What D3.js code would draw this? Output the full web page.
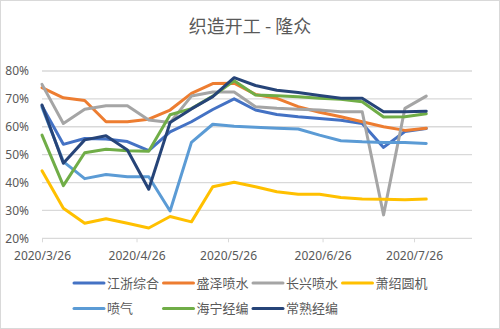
<!DOCTYPE html>
<html>
<head>
<meta charset="utf-8">
<script src="https://cdn.jsdelivr.net/npm/d3@7/dist/d3.min.js"></script>
<style>
html,body{margin:0;padding:0;background:#fff;}
svg{display:block;}
text{font-family:"Noto Sans CJK SC","Noto Sans",sans-serif;fill:#595959;}
</style>
</head>
<body>
<svg id="c" width="500" height="329"></svg>
<script>
const title = "织造开工 - 隆众";
const dates = ["2020-03-26","2020-04-02","2020-04-09","2020-04-16","2020-04-23","2020-04-30","2020-05-07","2020-05-14","2020-05-21","2020-05-28","2020-06-04","2020-06-11","2020-06-18","2020-06-25","2020-07-02","2020-07-09","2020-07-16","2020-07-23","2020-07-30"];
const seriesNames = ["江浙综合","盛泽喷水","长兴喷水","萧绍圆机","喷气","海宁经编","常熟经编"];
const jiangzhe  = [67.5,53.7,55.8,55.6,54.7,51.4,58.2,61.8,66.2,70.0,66.0,64.4,63.6,63.0,62.3,61.2,52.6,58.3,59.4];
const shengze   = [74.0,70.4,69.4,61.8,61.8,62.7,66.0,72.0,75.5,75.6,71.6,70.2,67.2,65.2,63.6,61.8,60.0,58.7,59.5];
const changxing = [75.2,61.2,66.3,67.5,67.5,62.4,61.5,71.0,72.5,72.5,67.2,66.6,66.3,66.0,65.4,65.4,28.4,66.6,71.0];
const xiaoshao  = [44.2,30.8,25.4,27.0,25.4,23.7,27.8,25.9,38.5,40.1,38.5,36.7,35.8,35.8,34.6,34.1,34.0,33.8,34.1];
const penqi     = [67.0,47.5,41.4,42.9,42.1,42.1,29.8,54.4,60.9,60.2,59.8,59.5,59.2,57.0,55.0,54.6,54.4,54.4,54.0];
const haining   = [57.0,38.9,50.7,51.9,51.4,51.2,64.3,66.5,71.0,76.5,71.4,71.1,70.8,70.2,69.9,69.0,63.5,63.6,64.7];
const changshu  = [67.8,46.9,55.3,56.8,51.7,37.6,61.5,66.4,70.8,77.6,74.8,73.1,72.3,71.2,70.2,70.2,65.4,65.4,65.6];
const colors = ["#4472C4","#ED7D31","#A5A5A5","#FFC000","#5B9BD5","#70AD47","#264478"];
const yTicks = [20,30,40,50,60,70,80];
const xTickDates = ["2020-03-26","2020-04-26","2020-05-26","2020-06-26","2020-07-26"];
const xDomain = ["2020-03-26","2020-08-14"];

const values = [jiangzhe,shengze,changxing,xiaoshao,penqi,haining,changshu];
const parse = d3.utcParse("%Y-%m-%d");
const svg = d3.select("#c");

svg.append("rect").attr("x",0.5).attr("y",0.5).attr("width",499).attr("height",328)
  .attr("fill","#fff").attr("stroke","#d9d9d9");

svg.append("text").attr("x",250).attr("y",33).attr("text-anchor","middle")
  .style("font-size","18px").text(title);

const x = d3.scaleUtc().domain(xDomain.map(parse)).range([42,472]);
const y = d3.scaleLinear().domain([20,80]).range([238.3,71]);

// gridlines
svg.append("g").selectAll("line").data(yTicks.filter(t=>t>20)).join("line")
  .attr("x1",42).attr("x2",472).attr("y1",d=>y(d)).attr("y2",d=>y(d))
  .attr("stroke","#d9d9d9").attr("stroke-width",1.3);

// y axis labels
const yAxis = d3.axisLeft(y).tickValues(yTicks).tickFormat(d=>d+"%").tickSize(0).tickPadding(13);
const gy = svg.append("g").attr("transform","translate(42,0)").call(yAxis);
gy.select(".domain").remove();
gy.selectAll("text").style("font-size","12px").style("fill","#595959").style("font-family","\"Noto Sans\",sans-serif");

// x axis
const xAxis = d3.axisBottom(x).tickValues(xTickDates.map(parse))
  .tickFormat(d3.utcFormat("%Y/%-m/%-d")).tickSize(4).tickPadding(9);
const gx = svg.append("g").attr("transform","translate(0,238.3)").call(xAxis);
gx.select(".domain").attr("stroke","#d9d9d9").attr("stroke-width",1.3).attr("d","M42,0H472");
gx.selectAll(".tick line").attr("stroke","#d9d9d9");
gx.selectAll("text").style("font-size","12px").style("fill","#595959").style("font-family","\"Noto Sans\",sans-serif");

// lines
const line = d3.line().x((d,i)=>x(parse(dates[i]))).y(d=>y(d));
svg.append("g").selectAll("path").data(values).join("path")
  .attr("d",d=>line(d)).attr("fill","none")
  .attr("stroke",(d,i)=>colors[i]).attr("stroke-width",3)
  .attr("stroke-linejoin","round").attr("stroke-linecap","round");

// legend
const lg = svg.append("g");
seriesNames.forEach((n,i)=>{
  const col = i<4 ? i : i-4;
  const row = i<4 ? 0 : 1;
  const lx = 74 + col*89.5;
  const ly = 283 + row*25.5;
  lg.append("line").attr("x1",lx).attr("x2",lx+30).attr("y1",ly).attr("y2",ly)
    .attr("stroke",colors[i]).attr("stroke-width",3).attr("stroke-linecap","round");
  lg.append("text").attr("x",lx+33).attr("y",ly).attr("dy","0.35em")
    .style("font-size","13px").text(n);
});
</script>
</body>
</html>
